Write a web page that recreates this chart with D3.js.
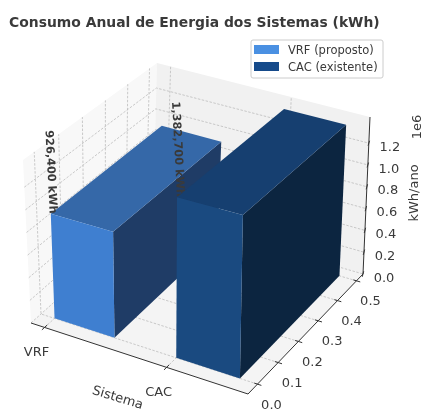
<!DOCTYPE html>
<html>
<head>
<meta charset="utf-8">
<script src="https://cdn.jsdelivr.net/npm/d3@7"></script>
<style>
  body { margin: 0; background: #fff; }
  svg { display: block; filter: blur(0.45px); }
  text { font-family: "DejaVu Sans", sans-serif; fill: #3a3a3a; }
</style>
</head>
<body>
<div class="box"></div>
<script>
// Data
const sistemas = ['VRF', 'CAC'];
const consumo = [926400, 1382700];
const rotulos = ['926,400 kWh', '1,382,700 kWh'];
const legenda = ['VRF (proposto)', 'CAC (existente)'];
const yTicks = [0, 0.1, 0.2, 0.3, 0.4, 0.5];
const zTicks = [0, 200000, 400000, 600000, 800000, 1000000, 1200000];

const barWidth = 0.5;
const barDepth = 0.5;

const cores = [
  {legend: '#4a90e2', front: '#3f7fd0', top: '#3568a8', side: '#1f3c66'},
  {legend: '#154a8a', front: '#1a4a80', top: '#163f70', side: '#0c2540'}
];

const svg = d3.select('.box')
              .append('svg')
              .attr('width', 423)
              .attr('height', 411);

// Scales to unit cube
const x = d3.scaleLinear().domain([-0.115, 1.635]).range([0, 1]);
const y = d3.scaleLinear().domain([-0.045, 0.535]).range([0, 1]);
const z = d3.scaleLinear().domain([0, 1440000]).range([0, 1]);

// unit square -> quad, perspective map (corners: u0v0, u1v0, u1v1, u0v1)
function quadMap(q) {
  const [[x0, y0], [x1, y1], [x2, y2], [x3, y3]] = q;
  const dx1 = x1 - x2, dx2 = x3 - x2, sx = x0 - x1 + x2 - x3;
  const dy1 = y1 - y2, dy2 = y3 - y2, sy = y0 - y1 + y2 - y3;
  const det = dx1 * dy2 - dx2 * dy1;
  const g = (sx * dy2 - dx2 * sy) / det;
  const h = (dx1 * sy - sx * dy1) / det;
  return (u, v) => {
    const w = g * u + h * v + 1;
    return [
      ((x1 - x0 + g * x1) * u + (x3 - x0 + h * x3) * v + x0) / w,
      ((y1 - y0 + g * y1) * u + (y3 - y0 + h * y3) * v + y0) / w
    ];
  };
}

const floorMap = quadMap([[31, 323], [248, 394], [363, 274], [153, 213]]);
const roofMap = quadMap([[23, 160], [251, 222], [370, 117], [157, 63]]);

function project(a, b, c) {
  const u = x(a), v = y(b), w = z(c);
  const p = floorMap(u, v), q = roofMap(u, v);
  return [p[0] + (q[0] - p[0]) * w, p[1] + (q[1] - p[1]) * w];
}

const line = d3.line();
const [xMin, xMax] = x.domain();
const [yMin, yMax] = y.domain();
const [zMin, zMax] = z.domain();

function face(pts, fill, g) {
  return (g || svg).append('path')
     .attr('d', line(pts.map(p => project(...p))) + 'Z')
     .attr('fill', fill);
}

// Panes
face([[xMin, yMin, zMin], [xMin, yMax, zMin], [xMin, yMax, zMax], [xMin, yMin, zMax]], '#f8f8f8');
face([[xMin, yMax, zMin], [xMax, yMax, zMin], [xMax, yMax, zMax], [xMin, yMax, zMax]], '#f1f1f1');
face([[xMin, yMin, zMin], [xMax, yMin, zMin], [xMax, yMax, zMin], [xMin, yMax, zMin]], '#f4f4f4');

// Grid
const grid = svg.append('g')
                .attr('fill', 'none')
                .attr('stroke', '#bdbdbd')
                .attr('stroke-width', 0.8)
                .attr('stroke-dasharray', '2.5,1.5');

function gridLine(pts) {
  grid.append('path').attr('d', line(pts.map(p => project(...p))));
}

zTicks.forEach(t => gridLine([[xMin, yMin, t], [xMin, yMax, t], [xMax, yMax, t]]));
yTicks.forEach(t => gridLine([[xMax, t, zMin], [xMin, t, zMin], [xMin, t, zMax]]));
sistemas.forEach((s, i) => gridLine([[i, yMin, zMin], [i, yMax, zMin], [i, yMax, zMax]]));

// Axes
const eixos = svg.append('g')
                 .attr('fill', 'none')
                 .attr('stroke', '#333')
                 .attr('stroke-width', 1);

function eixo(pts) {
  eixos.append('path').attr('d', line(pts.map(p => project(...p))));
}

eixo([[xMin, yMin, zMin], [xMax, yMin, zMin]]);
eixo([[xMax, yMin, zMin], [xMax, yMax, zMin]]);
eixo([[xMax, yMax, zMin], [xMax, yMax, zMax]]);

sistemas.forEach((s, i) => {
  eixo([[i, yMin - 0.012, zMin], [i, yMin + 0.012, zMin]]);
  const p = project(i, yMin, zMin);
  svg.append('text')
     .attr('x', p[0] - 8)
     .attr('y', p[1] + 24)
     .attr('dy', '0.35em')
     .attr('text-anchor', 'middle')
     .attr('font-size', 13)
     .text(s);
});

yTicks.forEach(t => {
  eixo([[xMax - 0.025, t, zMin], [xMax + 0.03, t, zMin]]);
  const p = project(xMax, t, zMin);
  svg.append('text')
     .attr('x', p[0] + 14)
     .attr('y', p[1] + 20)
     .attr('dy', '0.35em')
     .attr('text-anchor', 'middle')
     .attr('font-size', 13)
     .text(t.toFixed(1));
});

zTicks.forEach(t => {
  eixo([[xMax - 0.012, yMax + 0.012, t], [xMax + 0.012, yMax - 0.012, t]]);
  const p = project(xMax, yMax, t);
  svg.append('text')
     .attr('x', p[0] + 21)
     .attr('y', p[1] + 3)
     .attr('dy', '0.35em')
     .attr('text-anchor', 'middle')
     .attr('font-size', 13)
     .text((t / 1e6).toFixed(1));
});

// Bars and labels
function barra(i) {
  const a = i, b = i + barWidth, h = consumo[i];
  const g = svg.append('g');
  face([[b, 0, 0], [b, barDepth, 0], [b, barDepth, h], [b, 0, h]], cores[i].side, g);
  face([[a, 0, h], [b, 0, h], [b, barDepth, h], [a, barDepth, h]], cores[i].top, g);
  face([[a, 0, 0], [b, 0, 0], [b, 0, h], [a, 0, h]], cores[i].front, g);
}

function rotulo(i, dx) {
  const p = project(i, 0, consumo[i]);
  svg.append('text')
     .attr('transform', `translate(${p[0] + dx}, ${p[1]}) rotate(87)`)
     .attr('text-anchor', 'end')
     .attr('font-size', 11.3)
     .attr('font-weight', 'bold')
     .text(rotulos[i]);
}

barra(0);
rotulo(0, -1);
rotulo(1, 0);
barra(1);

// Titles
svg.append('text')
   .attr('x', 9)
   .attr('y', 27)
   .attr('font-size', 13.9)
   .attr('font-weight', 'bold')
   .text('Consumo Anual de Energia dos Sistemas (kWh)');

svg.append('text')
   .attr('transform', 'translate(118, 397) rotate(17)')
   .attr('text-anchor', 'middle')
   .attr('dy', '0.35em')
   .attr('font-size', 13)
   .text('Sistema');

svg.append('text')
   .attr('transform', 'translate(413, 193) rotate(-90)')
   .attr('text-anchor', 'middle')
   .attr('dy', '0.35em')
   .attr('font-size', 13)
   .text('kWh/ano');

svg.append('text')
   .attr('transform', 'translate(416, 127) rotate(-90)')
   .attr('text-anchor', 'middle')
   .attr('dy', '0.35em')
   .attr('font-size', 13)
   .text('1e6');

// Legend
const leg = svg.append('g');
leg.append('rect')
   .attr('x', 251).attr('y', 40)
   .attr('width', 132).attr('height', 38)
   .attr('rx', 2)
   .attr('fill', '#fff')
   .attr('stroke', '#ccc');

legenda.forEach((l, i) => {
  leg.append('rect')
     .attr('x', 254).attr('y', 45 + i * 17)
     .attr('width', 25).attr('height', 9)
     .attr('fill', cores[i].legend);
  leg.append('text')
     .attr('x', 288).attr('y', 49.5 + i * 17)
     .attr('dy', '0.35em')
     .attr('font-size', 11.5)
     .text(l);
});
</script>
</body>
</html>
